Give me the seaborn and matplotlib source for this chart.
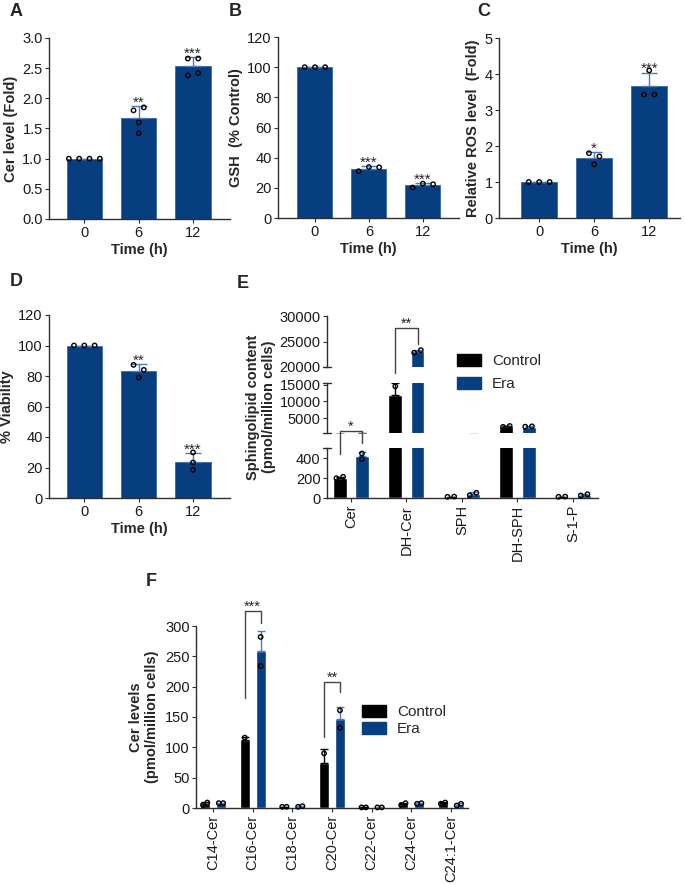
import numpy as np
import pandas as pd
import seaborn as sns
import matplotlib.pyplot as plt
from matplotlib.patches import Patch

# ---- data ----
time_labels = ['0', '6', '12']
cer_fold = [[1.0, 1.0, 1.0, 1.0], [1.80, 1.85, 1.60, 1.42], [2.66, 2.66, 2.38, 2.42]]
gsh_pct = [[100, 100, 100], [31.0, 33.8, 33.6], [20.2, 22.8, 22.4]]
ros_fold = [[1.0, 1.0, 1.0], [1.80, 1.71, 1.49], [4.10, 3.43, 3.43]]
viability = [[100, 100, 100], [87.3, 84.0, 79.0], [29.9, 23.3, 18.5]]

lipids = ['Cer', 'DH-Cer', 'SPH', 'DH-SPH', 'S-1-P']
lipid_ctrl = [[198, 212], [14500, 9200], [12, 14], [2350, 2600], [12, 14]]
lipid_era = [[445, 390], [22800, 23300], [28, 52], [2400, 2500], [25, 38]]

species = ['C14-Cer', 'C16-Cer', 'C18-Cer', 'C20-Cer', 'C22-Cer', 'C24-Cer', 'C24:1-Cer']
species_ctrl = [[5, 9], [108, 116], [2, 2], [90, 57], [1, 1], [5, 8], [7, 9]]
species_era = [[8, 8], [282, 234], [2, 3], [161, 132], [1, 1], [7, 8], [4, 7]]

BLUE = '#073e80'
BLUE_ERR = '#4d7bb8'
BLACK = '#000000'
SPINE = '#2e2e2e'

sns.set_style('ticks')
plt.rcParams['font.family'] = ['Liberation Sans', 'DejaVu Sans']
plt.rcParams['axes.edgecolor'] = SPINE
plt.rcParams['axes.linewidth'] = 1.0
plt.rcParams['xtick.color'] = SPINE
plt.rcParams['ytick.color'] = SPINE
plt.rcParams['xtick.labelcolor'] = '#1a1a1a'
plt.rcParams['ytick.labelcolor'] = '#1a1a1a'
plt.rcParams['xtick.major.size'] = 3
plt.rcParams['ytick.major.size'] = 3
plt.rcParams['xtick.major.pad'] = 2
plt.rcParams['ytick.major.pad'] = 1.5
plt.rcParams['xtick.labelsize'] = 10.5
plt.rcParams['ytick.labelsize'] = 10.5
plt.rcParams['axes.labelsize'] = 10.5


def long_df(groups, labels, group=None):
    rows = []
    for lab, vals in zip(labels, groups):
        for v in vals:
            rows.append((lab, v, group))
    return pd.DataFrame(rows, columns=['cat', 'value', 'group'])


def spread(vals, thr, step):
    # GraphPad-like layout: replicates of similar height sit side by side
    rows = []
    for i in sorted(range(len(vals)), key=lambda k: -vals[k]):
        if rows and vals[rows[-1][0]] - vals[i] < thr(vals[i]):
            rows[-1].append(i)
        else:
            rows.append([i])
    offs = np.zeros(len(vals))
    for row in rows:
        row.sort()
        for k, i in enumerate(row):
            offs[i] = (k - (len(row) - 1) / 2) * step
    return offs


def dots(ax, pos, groups, thr, step, ylim=None):
    for p, v in zip(pos, groups):
        off = spread(v, thr, step)
        v = np.asarray(v, float)
        keep = np.ones(len(v), bool) if ylim is None else (v >= ylim[0]) & (v <= ylim[1])
        if keep.any():
            ax.scatter((p + off)[keep], v[keep], s=10, facecolors='none', edgecolors='black',
                       linewidths=1, zorder=4, clip_on=ylim is None)


def up_err(ax, pos, groups, color, cap):
    means = np.array([np.mean(v) for v in groups])
    sds = np.array([np.std(v, ddof=1) for v in groups])
    ax.errorbar(pos, means, yerr=[np.zeros(len(pos)), sds], fmt='none', ecolor=color,
                elinewidth=1, capsize=cap, capthick=1, zorder=3)
    return means + sds


def time_panel(ax, values, ylim, yticks, ylabel, stars, thr, xlim):
    df = long_df(values, time_labels)
    sns.barplot(data=df, x='cat', y='value', order=time_labels, color=BLUE, errorbar=None,
                saturation=1, width=0.65, edgecolor='#3a68a5', linewidth=0.6, ax=ax)
    pos = np.arange(len(time_labels))
    tops = up_err(ax, pos, values, BLUE_ERR, 6)
    dots(ax, pos, values, lambda v: thr, 0.19)
    for p, t, s in zip(pos, tops, stars):
        if s:
            ax.annotate(s, (p, t), xytext=(0, -2.5), textcoords='offset points',
                        ha='center', va='bottom', fontsize=11, annotation_clip=False)
    ax.set_ylim(ylim)
    ax.set_yticks(yticks)
    ax.set_xlim(xlim)
    ax.set_xlabel('Time (h)', fontweight='bold', labelpad=2)
    ax.set_ylabel(ylabel, fontweight='bold', labelpad=3)
    sns.despine(ax=ax)


def group_bars(ax, cats, ctrl, era, thr, step, cap, ylim):
    df = pd.concat([long_df(ctrl, cats, 'Control'), long_df(era, cats, 'Era')])
    sns.barplot(data=df, x='cat', y='value', hue='group', order=cats, hue_order=['Control', 'Era'],
                palette=[BLACK, BLUE], saturation=1, errorbar=None, width=0.8, gap=0.375,
                legend=False, ax=ax)
    pos = np.arange(len(cats))
    up_err(ax, pos - 0.2, ctrl, BLACK, cap)
    up_err(ax, pos + 0.2, era, BLUE_ERR, cap)
    dots(ax, pos - 0.2, ctrl, thr, step, ylim)
    dots(ax, pos + 0.2, era, thr, step, ylim)
    ax.set_ylim(ylim)
    ax.set_xlabel('')
    ax.set_ylabel('')


def bracket(ax, x0, x1, ytop, yleft, yright, text):
    ax.plot([x0, x0, x1, x1], [yleft, ytop, ytop, yright], color='#444444', lw=1, clip_on=False)
    ax.annotate(text, ((x0 + x1) / 2, ytop), xytext=(0, -2), textcoords='offset points',
                ha='center', va='bottom', fontsize=10.5, annotation_clip=False)


def brk(ax, y):
    ax.plot([-0.016, 0.016], [y, y], transform=ax.transAxes, color=SPINE, lw=1, clip_on=False)


W, H = 685, 885
fig = plt.figure(figsize=(W / 100, H / 100), dpi=100)


def box(x0, y0, x1, y1):
    return [x0 / W, 1 - y1 / H, (x1 - x0) / W, (y1 - y0) / H]


# ---- A-D ----
axA = fig.add_axes(box(49, 38, 230, 219))
time_panel(axA, cer_fold, (0, 3), np.arange(0, 3.01, 0.5), 'Cer level (Fold)',
           ['', '**', '***'], 0.09, (-0.65, 2.68))
axA.yaxis.set_major_formatter('{x:.1f}')

axB = fig.add_axes(box(278, 37, 459, 218))
time_panel(axB, gsh_pct, (0, 120), range(0, 121, 20), 'GSH  (% Control)',
           ['', '***', '***'], 3.5, (-0.685, 2.67))

axC = fig.add_axes(box(499, 38, 680, 218))
time_panel(axC, ros_fold, (0, 5), range(0, 6), 'Relative ROS level  (Fold)',
           ['', '*', '***'], 0.15, (-0.73, 2.56))

axD = fig.add_axes(box(49, 315, 230, 498))
time_panel(axD, viability, (0, 120), range(0, 121, 20), '% Viability',
           ['', '**', '***'], 3.5, (-0.65, 2.68))


# ---- E (broken y axis) ----
def lip_thr(v):
    return 50 if v < 500 else (1500 if v < 15500 else 1000)


axE3 = fig.add_axes(box(327, 316, 598, 367))
axE2 = fig.add_axes(box(327, 383, 598, 433))
axE1 = fig.add_axes(box(327, 448, 598, 498))
for ax, lim, ticks in [(axE3, (20000, 30000), [20000, 25000, 30000]),
                       (axE2, (500, 15500), [5000, 10000, 15000]),
                       (axE1, (0, 500), [0, 200, 400])]:
    group_bars(ax, lipids, lipid_ctrl, lipid_era, lip_thr, 0.12, 3, lim)
    ax.set_yticks(ticks)
    ax.set_xlim(-0.43, 4.45)
    sns.despine(ax=ax)
for ax in (axE3, axE2):
    ax.spines['bottom'].set_visible(False)
    ax.tick_params(axis='x', bottom=False, labelbottom=False)
brk(axE3, 0)
brk(axE2, 1)
brk(axE2, 0)
brk(axE1, 1)
axE1.tick_params(axis='x', rotation=90)
bracket(axE1, -0.2, 0.2, 670, 440, 550, '*')
bracket(axE3, 0.8, 1.2, 27650, 18800, 24600, '**')
fig.text(261 / W, 1 - 407 / H, 'Sphingolipid content\n(pmol/million cells)', rotation=90,
         ha='center', va='center', fontsize=10.5, fontweight='bold', multialignment='center')
handles = [Patch(color=BLACK, label='Control'), Patch(color=BLUE, label='Era')]
fig.legend(handles=handles, loc='upper left', bbox_to_anchor=(457 / W, 1 - 354 / H), frameon=False,
           fontsize=11, handlelength=1.6, handleheight=0.8, handletextpad=0.7,
           labelspacing=0.6, borderpad=0, borderaxespad=0)

# ---- F ----
axF = fig.add_axes(box(196, 626, 468, 808))
group_bars(axF, species, species_ctrl, species_era, lambda v: 8, 0.11, 3, (0, 300))
axF.set_yticks(range(0, 301, 50))
axF.set_xlim(-0.43, 6.43)
axF.tick_params(axis='x', rotation=90)
sns.despine(ax=axF)
bracket(axF, 0.8, 1.2, 325, 181, 305, '***')
bracket(axF, 2.8, 3.2, 208, 117, 191, '**')
fig.text(144 / W, 1 - 717 / H, 'Cer levels\n(pmol/million cells)', rotation=90,
         ha='center', va='center', fontsize=10.5, fontweight='bold', multialignment='center')
fig.legend(handles=handles, loc='upper left', bbox_to_anchor=(362 / W, 1 - 705 / H), frameon=False,
           fontsize=11, handlelength=1.6, handleheight=0.8, handletextpad=0.7,
           labelspacing=0.2, borderpad=0, borderaxespad=0)

# ---- panel letters ----
for lab, x, y in [('A', 10, 12), ('B', 229, 12), ('C', 477, 12), ('D', 10, 282),
                  ('E', 237, 284), ('F', 146, 582)]:
    fig.text(x / W, 1 - y / H, lab, fontsize=13, fontweight='bold', va='center', ha='left')

fig.savefig('out.png', dpi=100)
